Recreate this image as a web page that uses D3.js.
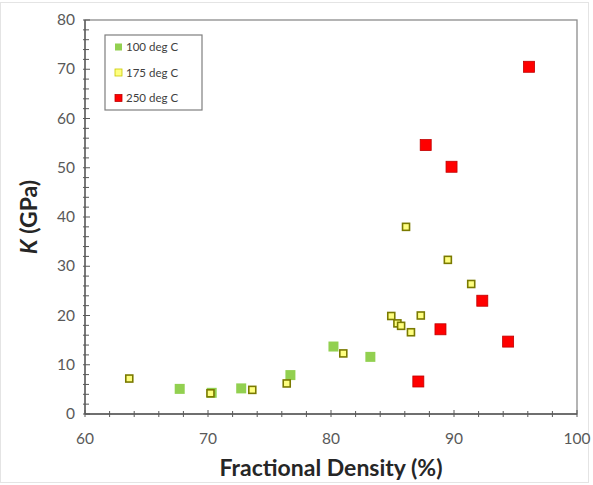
<!DOCTYPE html>
<html lang="en">
<head>
    <meta charset="UTF-8">
    <title>K vs Fractional Density</title>
    <script src="https://d3js.org/d3.v7.min.js"></script>
    <style>
        body { margin: 0; background: #fff; }
        svg { display: block; font-family: 'Lato', 'Open Sans', sans-serif; }
        .tick-label { font-size: 15.5px; fill: #595959; }
        .axis-title { font-size: 23px; font-weight: bold; fill: #262626; }
        .legend-text { font-size: 11.5px; fill: #404040; }
    </style>
</head>
<body>
<svg width="593" height="485"></svg>
<script>
    // series: [fractional density %, K GPa]
    const series100 = [[67.7, 5.1], [70.3, 4.3], [72.7, 5.2], [76.7, 7.9], [80.2, 13.7], [83.2, 11.6]];
    const series175 = [[63.6, 7.2], [70.2, 4.2], [73.6, 4.9], [76.4, 6.2], [81.0, 12.3],
                       [86.1, 38.0], [89.5, 31.3], [91.4, 26.4], [84.9, 19.9], [85.4, 18.4],
                       [85.7, 17.9], [86.5, 16.6], [87.3, 20.0]];
    const series250 = [[96.1, 70.5], [87.7, 54.6], [89.8, 50.2], [92.3, 23.0], [88.9, 17.2],
                       [94.4, 14.7], [87.1, 6.6]];
    const seriesNames = ["100 deg C", "175 deg C", "250 deg C"];
    const xTicks = [60, 70, 80, 90, 100];
    const yTicks = [0, 10, 20, 30, 40, 50, 60, 70, 80];

    const svg = d3.select("svg");
    const pLeft = 85, pRight = 577, pTop = 20, pBottom = 414;

    const x = d3.scaleLinear().domain([60, 100]).range([pLeft, pRight]);
    const y = d3.scaleLinear().domain([0, 80]).range([pBottom, pTop]);

    // faint outer chart frame
    svg.append("rect")
        .attr("x", 0.5).attr("y", 2.5).attr("width", 588).attr("height", 480)
        .attr("fill", "none").attr("stroke", "#e4e4e4");

    // plot area frame
    svg.append("rect")
        .attr("x", pLeft).attr("y", pTop).attr("width", pRight - pLeft).attr("height", pBottom - pTop)
        .attr("fill", "none").attr("stroke", "#8c8c8c").attr("stroke-width", 1.3);

    // minor + major ticks on x axis (crossing the line)
    const xMinor = d3.range(60, 100.1, 2);
    svg.append("g").selectAll("line").data(xMinor).enter().append("line")
        .attr("x1", d => x(d)).attr("x2", d => x(d))
        .attr("y1", d => pBottom - (d % 10 === 0 ? 4 : 3))
        .attr("y2", d => pBottom + 3)
        .attr("stroke", "#595959");

    const yMinor = d3.range(0, 80.1, 2);
    svg.append("g").selectAll("line").data(yMinor).enter().append("line")
        .attr("y1", d => y(d)).attr("y2", d => y(d))
        .attr("x1", pLeft - 2)
        .attr("x2", d => pLeft + (d % 10 === 0 ? 5 : 4))
        .attr("stroke", "#595959");

    // axis lines
    svg.append("line").attr("x1", pLeft).attr("x2", pRight).attr("y1", pBottom).attr("y2", pBottom)
        .attr("stroke", "#595959").attr("stroke-width", 1.3);
    svg.append("line").attr("x1", pLeft).attr("x2", pLeft).attr("y1", pTop).attr("y2", pBottom)
        .attr("stroke", "#595959").attr("stroke-width", 1.3);

    // tick labels
    svg.append("g").selectAll("text").data(xTicks).enter().append("text")
        .attr("class", "tick-label")
        .attr("x", d => x(d)).attr("y", pBottom + 30)
        .attr("text-anchor", "middle")
        .text(d => d);
    svg.append("g").selectAll("text").data(yTicks).enter().append("text")
        .attr("class", "tick-label")
        .attr("x", pLeft - 10).attr("y", d => y(d) + 5)
        .attr("text-anchor", "end")
        .text(d => d);

    // axis titles
    svg.append("text")
        .attr("class", "axis-title")
        .attr("x", (pLeft + pRight) / 2).attr("y", 476)
        .attr("text-anchor", "middle")
        .text("Fractional Density (%)");

    const yt = svg.append("text")
        .attr("class", "axis-title")
        .attr("transform", "translate(37," + ((pTop + pBottom) / 2) + ") rotate(-90)")
        .attr("text-anchor", "middle");
    yt.append("tspan").attr("font-style", "italic").text("K");
    yt.append("tspan").text(" (GPa)");

    // points
    const g = svg.append("g");
    const s1 = 10, s2 = 7, s3 = 11;

    g.selectAll(".p100").data(series100).enter().append("rect")
        .attr("x", d => x(d[0]) - s1 / 2).attr("y", d => y(d[1]) - s1 / 2)
        .attr("width", s1).attr("height", s1)
        .attr("fill", "#92d050");

    g.selectAll(".p175").data(series175).enter().append("rect")
        .attr("x", d => x(d[0]) - s2 / 2).attr("y", d => y(d[1]) - s2 / 2)
        .attr("width", s2).attr("height", s2)
        .attr("fill", "#ffff80").attr("stroke", "#7a7a00").attr("stroke-width", 1.6);

    g.selectAll(".p250").data(series250).enter().append("rect")
        .attr("x", d => x(d[0]) - s3 / 2).attr("y", d => y(d[1]) - s3 / 2)
        .attr("width", s3).attr("height", s3)
        .attr("fill", "#ff0000").attr("stroke", "#c00000").attr("stroke-width", 0.8);

    // legend
    const lg = svg.append("g");
    lg.append("rect")
        .attr("x", 105).attr("y", 35).attr("width", 97).attr("height", 75)
        .attr("fill", "#fff").attr("stroke", "#7f7f7f").attr("stroke-width", 1.2);

    const legFill = ["#92d050", "#ffff80", "#ff0000"];
    const legStroke = ["none", "#c8c800", "#c00000"];
    seriesNames.forEach(function(name, i) {
        const cy = 47 + i * 25.5;
        lg.append("rect")
            .attr("x", 115).attr("y", cy - 3.5).attr("width", 7).attr("height", 7)
            .attr("fill", legFill[i]).attr("stroke", legStroke[i]).attr("stroke-width", 0.8);
        lg.append("text")
            .attr("class", "legend-text")
            .attr("x", 126).attr("y", cy + 4)
            .text(name);
    });
</script>
</body>
</html>
